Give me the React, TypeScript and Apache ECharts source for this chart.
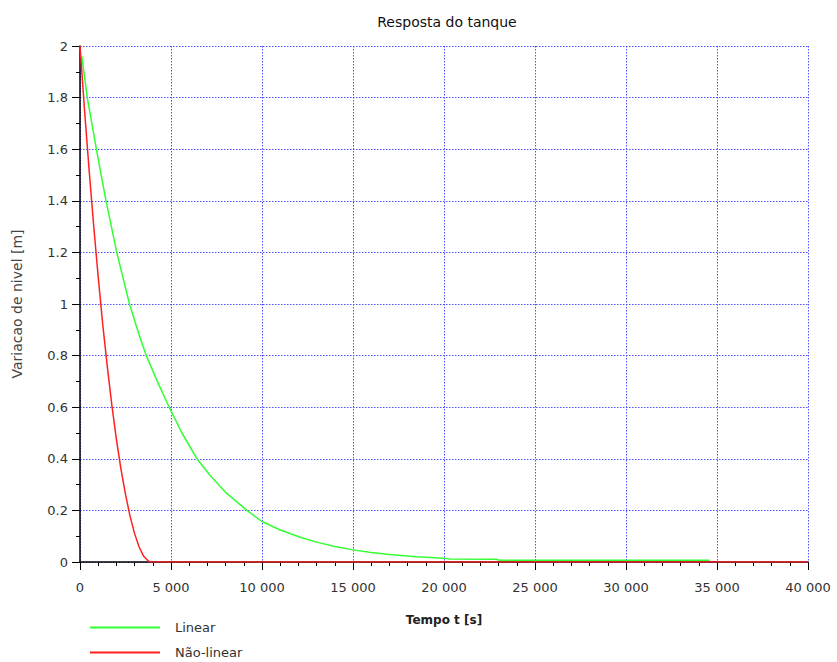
import React, { useEffect, useRef } from "react";
import * as echarts from "echarts";

const titleText = "Resposta do tanque";
const xName = "Tempo t [s]";
const yName = "Variacao de nivel [m]";
const seriesNames = ["Linear", "Não-linear"];

// [tempo (s), variação de nível (m)]
const linearData: [number, number][] = [
  [100, 1.96], [400, 1.8], [900, 1.6], [1430, 1.4], [2020, 1.2], [2720, 1.0],
  [3250, 0.88], [3640, 0.8], [4250, 0.7], [4900, 0.6], [5600, 0.5], [6430, 0.4],
  [7150, 0.335], [8000, 0.27], [9170, 0.2], [10000, 0.157], [11000, 0.124],
  [12100, 0.096], [13000, 0.077], [14000, 0.06], [15000, 0.047], [16000, 0.037],
  [17000, 0.029], [18500, 0.02], [20000, 0.015], [20300, 0.012], [22900, 0.011],
  [23000, 0.007], [34600, 0.007],
];

const naoLinearData: [number, number][] = [
  [0, 2], [250, 1.75], [500, 1.52], [750, 1.305], [1000, 1.105], [1250, 0.92],
  [1500, 0.757], [1750, 0.608], [2000, 0.475], [2250, 0.36], [2500, 0.262],
  [2750, 0.178], [3000, 0.11], [3250, 0.058], [3500, 0.022], [3750, 0.004],
  [3900, 0], [40000, 0],
];

const fmtThousands = (v: number) =>
  String(Math.round(v)).replace(/\B(?=(\d{3})+(?!\d))/g, " ");

export default function App() {
  const ref = useRef<HTMLDivElement>(null);
  useEffect(() => {
    document.body.style.margin = "0";
    if (!ref.current) return;
    const chart = echarts.init(ref.current, undefined, { renderer: "svg" });
    const font = "DejaVu Sans";
    const gridLine = { show: true, lineStyle: { color: "#4f4fff", type: [1.5, 1.5] as any, width: 1 } };
    chart.setOption({
      animation: false,
      backgroundColor: "#ffffff",
      title: {
        text: titleText,
        left: 442,
        textAlign: "center",
        top: 10,
        textStyle: { fontFamily: font, fontSize: 14, fontWeight: "normal", color: "#111" },
      },
      legend: {
        orient: "vertical",
        left: 90,
        top: 620,
        padding: 0,
        height: 60,
        icon: "rect",
        itemWidth: 70,
        itemHeight: 2,
        itemGap: 10,
        textStyle: { fontFamily: font, fontSize: 13, color: "#333", padding: [0, 0, 0, 10], lineHeight: 15 },
        data: seriesNames,
      },
      grid: { left: 80, right: 29, top: 46, bottom: 100 },
      xAxis: {
        type: "value",
        min: 0,
        max: 40000,
        interval: 5000,
        name: xName,
        nameLocation: "middle",
        nameGap: 52,
        nameTextStyle: { fontFamily: font, fontSize: 12, fontWeight: 600, color: "#222" },
        axisLine: { show: true, onZero: false, lineStyle: { color: "#000", width: 1.5 } },
        axisTick: { show: true, length: 8, lineStyle: { color: "#000" } },
        minorTick: { show: true, splitNumber: 5, length: 4, lineStyle: { color: "#000" } },
        axisLabel: {
          margin: 19,
          fontFamily: font,
          fontSize: 13,
          color: "#333",
          formatter: (v: number) => fmtThousands(v),
        },
        splitLine: gridLine,
      },
      yAxis: {
        type: "value",
        min: 0,
        max: 2,
        interval: 0.2,
        name: yName,
        nameLocation: "middle",
        nameGap: 56,
        nameTextStyle: { fontFamily: font, fontSize: 14, color: "#444" },
        axisLine: { show: true, onZero: false, lineStyle: { color: "#000", width: 1.5 } },
        axisTick: { show: true, length: 8, lineStyle: { color: "#000" } },
        minorTick: { show: true, splitNumber: 2, length: 4, lineStyle: { color: "#000" } },
        axisLabel: {
          margin: 12,
          fontFamily: font,
          fontSize: 13,
          color: "#333",
          formatter: (v: number) => String(Math.round(v * 10) / 10),
        },
        splitLine: gridLine,
      },
      series: [
        {
          name: seriesNames[0],
          type: "line",
          data: linearData,
          symbol: "none",
          lineStyle: { color: "#33ff33", width: 1.5 },
          itemStyle: { color: "#33ff33" },
          z: 3,
        },
        {
          name: seriesNames[1],
          type: "line",
          data: naoLinearData,
          symbol: "none",
          lineStyle: { color: "#ff2020", width: 1.5 },
          itemStyle: { color: "#ff2020" },
          z: 4,
        },
      ],
    });
    return () => chart.dispose();
  }, []);
  return <div ref={ref} style={{ width: 837, height: 662 }} />;
}
